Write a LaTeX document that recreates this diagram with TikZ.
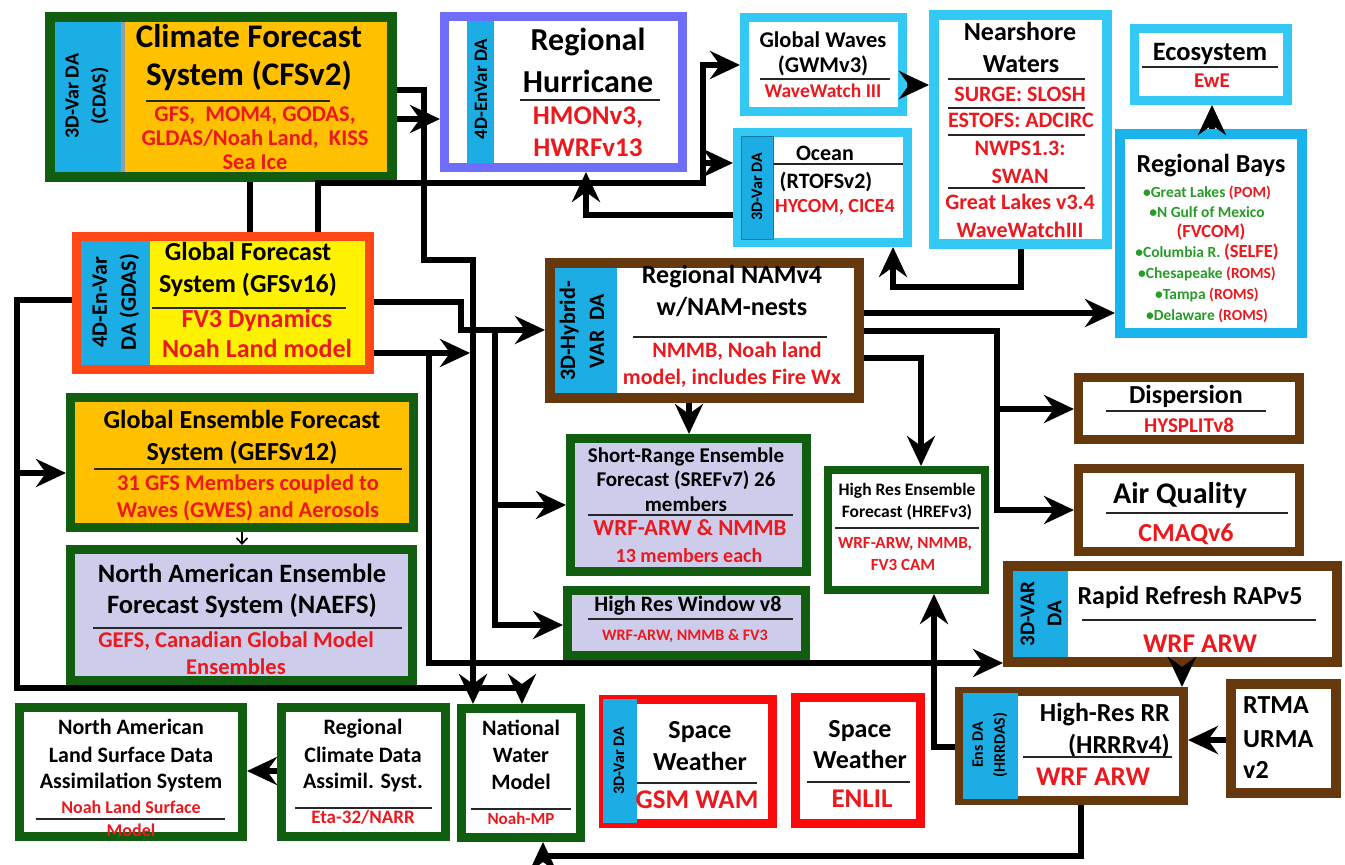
\documentclass[tikz,border=0pt]{standalone}
\usepackage{fontspec}
\setmainfont{Carlito}
\usetikzlibrary{arrows.meta}
\definecolor{dkgreen}{RGB}{17,94,17}
\definecolor{orfill}{RGB}{255,192,0}
\definecolor{stripblue}{RGB}{28,173,228}
\definecolor{ltblue}{RGB}{52,200,245}
\definecolor{bayblue}{RGB}{25,180,235}
\definecolor{peri}{RGB}{110,110,250}
\definecolor{gfsred}{RGB}{255,70,20}
\definecolor{nbrown}{RGB}{102,56,14}
\definecolor{lav}{RGB}{205,205,235}
\definecolor{swred}{RGB}{250,10,10}
\definecolor{txtred}{RGB}{235,25,30}
\definecolor{bgreen}{RGB}{40,155,40}
\definecolor{stripgray}{RGB}{140,160,170}
\newcommand\fsz[2]{\bfseries\fontsize{#1}{#2}\selectfont}
\newcommand\mkbox[8]{%
  \pgfmathsetmacro\mkbW{#4-#2-#6}%
  \pgfmathsetmacro\mkbH{#5-#3-#6}%
  \pgfmathsetmacro\mkbO{#6/2}%
  \node[draw=#7, fill=#8, line width=#6pt, outer sep=\mkbO pt, inner sep=0pt,
        minimum width=\mkbW pt, minimum height=\mkbH pt] (#1) at ({(#2+#4)/2},{(#3+#5)/2}) {};%
}
\begin{document}
\begin{tikzpicture}[x=1pt,y=-1pt,
  bt/.style={anchor=base,inner sep=0pt,text=black,font=\fsz{#1}{#1}},
  rt/.style={anchor=base,inner sep=0pt,text=txtred,font=\fsz{#1}{#1}},
  gt/.style={anchor=base,inner sep=0pt,text=bgreen,font=\fsz{#1}{#1}},
  vt/.style 2 args={rotate=90,align=center,inner sep=0pt,text=black,font=\fsz{#1}{#2}},
  sepl/.style={line width=1.3pt,draw=black!85},
  conn/.style={line width=6.5pt,draw=black},
  arr/.style={conn,-{Stealth[length=30pt,width=28pt,inset=10pt]}},
  thinarr/.style={line width=1.6pt,draw=black,-{Straight Barb[length=6pt,width=11pt]}}]
\useasboundingbox (0,0) rectangle (1345,865);
\fill[white] (0,0) rectangle (1345,865);

% ---------- boxes ----------
\mkbox{cfs}{45}{12}{397}{182}{10}{dkgreen}{orfill}
\mkbox{hur}{440}{12}{687}{172}{9}{peri}{white}
\mkbox{gw}{740}{13}{907}{116}{9}{ltblue}{white}
\mkbox{oc}{733}{128}{912}{247}{9}{ltblue}{white}
\mkbox{near}{929}{10}{1112}{249}{10}{ltblue}{white}
\mkbox{eco}{1130}{24}{1292}{105}{9}{ltblue}{white}
\mkbox{bays}{1115}{129}{1307}{338}{10}{bayblue}{white}
\mkbox{gfs}{72}{232}{374}{374}{9}{gfsred}{yellow}
\mkbox{gefs}{66}{393}{418}{532}{9}{dkgreen}{orfill}
\mkbox{naefs}{66}{545}{417}{685}{9}{dkgreen}{lav}
\mkbox{naldas}{15}{703}{247}{841}{9}{dkgreen}{white}
\mkbox{rcd}{277}{703}{450}{841}{9}{dkgreen}{white}
\mkbox{nwm}{457}{704}{585}{842}{9}{dkgreen}{white}
\mkbox{gsm}{599}{695}{777}{828}{9}{swred}{white}
\mkbox{enlil}{791}{693}{925}{828}{9}{swred}{white}
\mkbox{hrw}{563}{586}{810}{660}{9}{dkgreen}{lav}
\mkbox{sref}{566}{434}{811}{576}{9}{dkgreen}{lav}
\mkbox{nam}{545}{258}{864}{403}{10}{nbrown}{white}
\mkbox{href}{824}{466}{989}{594}{8}{dkgreen}{white}
\mkbox{disp}{1074}{373}{1304}{444}{9}{nbrown}{white}
\mkbox{air}{1074}{464}{1304}{556}{9}{nbrown}{white}
\mkbox{rap}{1003}{561}{1342}{667}{10}{nbrown}{white}
\mkbox{hrrr}{955}{687}{1188}{805}{9}{nbrown}{white}
\mkbox{rtma}{1226}{679}{1341}{798}{10}{nbrown}{white}

% ---------- DA strips ----------
\fill[stripblue] (55,22) rectangle (121,172);
\fill[stripgray] (121,22) rectangle (125,172);
\fill[stripblue] (467,21) rectangle (494,163);
\fill[stripblue] (81,241) rectangle (150,365);
\filldraw[fill=stripblue,draw=stripblue!70!black,line width=1pt] (741,136) rectangle (773,239);
\fill[stripblue] (555,268) rectangle (617,393);
\fill[stripblue] (603,699) rectangle (637,823);
\fill[stripblue] (1013,571) rectangle (1068,657);
\fill[stripblue] (963,693) rectangle (1018,799);

% ---------- CFS ----------
\node[vt={20}{27}] (cfs-da) at (87,96) {3D-Var DA\\(CDAS)};
\node[bt=33] (cfs-t1) at (249,47) {Climate Forecast};
\node[bt=33] (cfs-t2) at (249,85) {System (CFSv2)};
\draw[sepl] (146,101) -- (330,101);
\node[rt=22.5] (cfs-r1) at (255,121) {GFS,\ \ MOM4, GODAS,};
\node[rt=22.5] (cfs-r2) at (255,145) {GLDAS/Noah Land,\ \ KISS};
\node[rt=22.5] (cfs-r3) at (255,169) {Sea Ice};

% ---------- Hurricane ----------
\node[vt={19}{24}] (hur-da) at (481,89) {4D-EnVar DA};
\node[bt=32] (hur-t1) at (588,50) {Regional};
\node[bt=32] (hur-t2) at (588,92) {Hurricane};
\draw[sepl] (520,100) -- (660,100);
\node[rt=27] (hur-r1) at (588,124) {HMONv3,};
\node[rt=27] (hur-r2) at (588,156) {HWRFv13};

% ---------- Global waves ----------
\node[bt=22.5] (gw-t1) at (823,47) {Global Waves};
\node[bt=22.5] (gw-t2) at (823,72) {(GWMv3)};
\draw[sepl] (760,79) -- (890,79);
\node[rt=19.5] (gw-r) at (823,97) {WaveWatch III};

% ---------- Ocean ----------
\node[vt={16}{20}] (oc-da) at (757,187) {3D-Var DA};
\node[bt=22] (oc-t1) at (825,160) {Ocean};
\draw[sepl] (773,164) -- (903,164);
\node[bt=22] (oc-t2) at (826,188) {(RTOFSv2)};
\node[rt=20] (oc-r) at (835,212) {HYCOM, CICE4};

% ---------- Nearshore ----------
\node[bt=26] (ns-t1) at (1020,40) {Nearshore};
\node[bt=26] (ns-t2) at (1021,72) {Waters};
\draw[sepl] (948,79) -- (1085,79);
\node[rt=22] (ns-r1) at (1020,101) {SURGE: SLOSH};
\draw[sepl] (948,108) -- (1085,108);
\node[rt=22] (ns-r2) at (1021,127) {ESTOFS: ADCIRC};
\draw[sepl] (948,135) -- (1085,135);
\node[rt=22] (ns-r3) at (1020,155) {NWPS1.3:};
\node[rt=22] (ns-r4) at (1020,183) {SWAN};
\draw[sepl] (948,188) -- (1085,188);
\node[rt=22] (ns-r5) at (1020,209) {Great Lakes v3.4};
\node[rt=22] (ns-r6) at (1020,237) {WaveWatchIII};

% ---------- Ecosystem ----------
\node[bt=26.5] (eco-t) at (1210,60) {Ecosystem};
\draw[sepl] (1142,67) -- (1278,67);
\node[rt=21] (eco-r) at (1212,87) {EwE};

% ---------- Regional Bays ----------
\node[bt=26] (bays-t) at (1211,172) {Regional Bays};
\node[gt=15.5] (bays-1) at (1207,197) {•Great Lakes \textcolor{txtred}{(POM)}};
\node[gt=15.5] (bays-2) at (1207,217) {•N Gulf of Mexico};
\node[rt=18.5] (bays-3) at (1211,237) {(FVCOM)};
\node[gt=15.5] (bays-4) at (1207,257) {•Columbia R. \textcolor{txtred}{\fontsize{18.5}{18.5}\selectfont(SELFE)}};
\node[gt=15.5] (bays-5) at (1207,278) {•Chesapeake \textcolor{txtred}{(ROMS)}};
\node[gt=15.5] (bays-6) at (1207,299) {•Tampa \textcolor{txtred}{(ROMS)}};
\node[gt=15.5] (bays-7) at (1207,320) {•Delaware \textcolor{txtred}{(ROMS)}};

% ---------- GFS ----------
\node[vt={22}{29}] (gfs-da) at (116,302) {4D-En-Var\\DA (GDAS)};
\node[bt=26] (gfs-t1) at (248,260) {Global Forecast};
\node[bt=26] (gfs-t2) at (248,292) {System (GFSv16)};
\draw[sepl] (152,308) -- (346,308);
\node[rt=26] (gfs-r1) at (257,327) {FV3 Dynamics};
\node[rt=26] (gfs-r2) at (257,357) {Noah Land model};

% ---------- GEFS ----------
\node[bt=26] (gefs-t1) at (242,428) {Global Ensemble Forecast};
\node[bt=26] (gefs-t2) at (242,460) {System (GEFSv12)};
\draw[sepl] (94,469) -- (402,469);
\node[rt=22.5] (gefs-r1) at (248,490) {31 GFS Members coupled to};
\node[rt=22.5] (gefs-r2) at (248,517) {Waves (GWES) and Aerosols};

% ---------- NAEFS ----------
\node[bt=26.5] (naefs-t1) at (242,582) {North American Ensemble};
\node[bt=26.5] (naefs-t2) at (242,613) {Forecast System (NAEFS)};
\draw[sepl] (93,628) -- (402,628);
\node[rt=22.5] (naefs-r1) at (236,647) {GEFS, Canadian Global Model};
\node[rt=22.5] (naefs-r2) at (236,674) {Ensembles};

% ---------- NALDAS ----------
\node[bt=22] (nl-t1) at (131,734) {North American};
\node[bt=22] (nl-t2) at (131,762) {Land Surface Data};
\node[bt=22] (nl-t3) at (131,788) {Assimilation System};
\node[rt=18] (nl-r1) at (131,813) {Noah Land Surface};
\draw[sepl] (36,819) -- (225,819);
\node[rt=18] (nl-r2) at (131,836) {Model};

% ---------- Regional climate ----------
\node[bt=22] (rc-t1) at (363,734) {Regional};
\node[bt=22] (rc-t2) at (363,762) {Climate Data};
\node[bt=22] (rc-t3) at (363,788) {Assimil. Syst.};
\draw[sepl] (295,808) -- (432,808);
\node[rt=19] (rc-r) at (363,823) {Eta-32/NARR};

% ---------- National water ----------
\node[bt=22] (nwm-t1) at (521,735) {National};
\node[bt=22] (nwm-t2) at (521,762) {Water};
\node[bt=22] (nwm-t3) at (521,789) {Model};
\draw[sepl] (471,809) -- (571,809);
\node[rt=17] (nwm-r) at (521,824) {Noah-MP};

% ---------- Space weather ----------
\node[vt={16}{20}] (gsm-da) at (619,761) {3D-Var DA};
\node[bt=26] (gsm-t1) at (700,738) {Space};
\node[bt=26] (gsm-t2) at (700,770) {Weather};
\draw[sepl] (637,783) -- (757,783);
\node[rt=27] (gsm-r) at (697,808) {GSM WAM};
\node[bt=26] (en-t1) at (860,737) {Space};
\node[bt=26] (en-t2) at (860,768) {Weather};
\draw[sepl] (807,782) -- (910,782);
\node[rt=27] (en-r) at (862,807) {ENLIL};

% ---------- High Res Window ----------
\node[bt=22] (hrw-t) at (688,611) {High Res Window v8};
\draw[sepl] (588,619) -- (793,619);
\node[rt=16] (hrw-r) at (685,640) {WRF-ARW, NMMB \& FV3};

% ---------- SREF ----------
\node[bt=21] (sref-t1) at (686,462) {Short-Range Ensemble};
\node[bt=21] (sref-t2) at (686,486) {Forecast (SREFv7) 26};
\node[bt=21] (sref-t3) at (686,511) {members};
\draw[sepl] (588,515) -- (793,515);
\node[rt=23] (sref-r1) at (690,535) {WRF-ARW \& NMMB};
\node[rt=20] (sref-r2) at (689,562) {13 members each};

% ---------- NAM ----------
\node[vt={22}{29}] (nam-da) at (582,331) {3D-Hybrid-\\VAR\ \ DA};
\node[bt=26] (nam-t1) at (732,283) {Regional NAMv4};
\node[bt=26] (nam-t2) at (732,315) {w/NAM-nests};
\draw[sepl] (633,337) -- (827,337);
\node[rt=22] (nam-r1) at (737,357) {NMMB, Noah land};
\node[rt=22] (nam-r2) at (732,384) {model, includes Fire Wx};

% ---------- HREF ----------
\node[bt=17.5] (href-t1) at (907,495) {High Res Ensemble};
\node[bt=17.5] (href-t2) at (907,517) {Forecast (HREFv3)};
\draw[sepl] (835,528) -- (979,528);
\node[rt=17] (href-r1) at (905,548) {WRF-ARW, NMMB,};
\node[rt=17] (href-r2) at (903,570) {FV3 CAM};

% ---------- Dispersion / Air quality ----------
\node[bt=26] (disp-t) at (1186,403) {Dispersion};
\draw[sepl] (1106,411) -- (1266,411);
\node[rt=21] (disp-r) at (1189,432) {HYSPLITv8};
\node[bt=30] (air-t) at (1180,503) {Air Quality};
\draw[sepl] (1106,513) -- (1288,513);
\node[rt=26] (air-r) at (1186,541) {CMAQv6};

% ---------- RAP ----------
\node[vt={21}{27}] (rap-da) at (1041,614) {3D-VAR\\DA};
\node[bt=26] (rap-t) at (1190,604) {Rapid Refresh RAPv5};
\draw[sepl] (1082,620) -- (1316,620);
\node[rt=27] (rap-r) at (1200,652) {WRF ARW};

% ---------- HRRR ----------
\node[vt={16}{22}] (hrrr-da) at (990,745) {Ens DA\\(HRRDAS)};
\node[bt=26,anchor=base east] (hrrr-t1) at (1170,721) {High-Res RR};
\node[bt=26,anchor=base east] (hrrr-t2) at (1170,753) {(HRRRv4)};
\draw[sepl] (1023,757) -- (1172,757);
\node[rt=27] (hrrr-r) at (1093,785) {WRF ARW};

% ---------- RTMA ----------
\node[bt=26,anchor=base west] (rtma-1) at (1243,713) {RTMA};
\node[bt=26,anchor=base west] (rtma-2) at (1243,747) {URMA};
\node[bt=26,anchor=base west] (rtma-3) at (1243,778) {v2};

% ---------- junctions ----------
\coordinate (j-oc) at (703,163);
\coordinate (j-disp) at (997,409);
\coordinate (j-bus) at (470,353);
\coordinate (j-429) at (429,353);
\coordinate (j-495) at (495,330);
\coordinate (j-sref) at (495,505);
\coordinate (j-gefs) at (17,473);

% ---------- connectors ----------
\draw[arr] (cfs.east |- 0,90) -- (424,90) -- (424,260) -- (473,260) -- (nwm.north -| 473,0);
\draw[arr] (cfs.east |- 0,119) -- (hur.west |- 0,119);
\draw[conn] (cfs.south -| 250,0) -- (gfs.north -| 250,0);
\draw[arr] (gfs.north -| 318,0) -- (318,183) -- (703,183) -- (703,65) -- (gw.west |- 0,65);
\draw[arr] (j-oc) -- (oc.west |- 0,163);
\draw[arr] (oc.west |- 0,215) -- (586,215) -- (hur.south -| 586,0);
\draw[arr] (near.south -| 1021,0) -- (1021,287) -- (893,287) -- (oc.south -| 893,0);
\draw[arr] (gw.east |- 0,85) -- (near.west |- 0,85);
\draw[arr] (bays.north -| 1212,0) -- (eco.south -| 1212,0);
\draw[arr] (nam.east |- 0,313) -- (bays.west |- 0,313);
\draw[arr] (nam.east |- 0,331) -- (997,331) -- (997,510) -- (air.west |- 0,510);
\draw[arr] (j-disp) -- (disp.west |- 0,409);
\draw[arr] (nam.east |- 0,358) -- (921,358) -- (href.north -| 921,0);
\draw[arr] (gfs.east |- 0,302) -- (461,302) -- (461,330) -- (nam.west |- 0,330);
\draw[arr] (gfs.east |- 0,353) -- (j-bus);
\draw[arr] (j-429) -- (429,663) -- (rap.west |- 0,663);
\draw[arr] (j-495) -- (495,625) -- (hrw.west |- 0,625);
\draw[arr] (j-sref) -- (sref.west |- 0,505);
\draw[arr] (gfs.west |- 0,300) -- (17,300) -- (17,688) -- (522,688) -- (nwm.north -| 522,0);
\draw[arr] (j-gefs) -- (gefs.west |- 0,473);
\draw[thinarr] (gefs.south -| 242,0) -- (naefs.north -| 242,0);
\draw[arr] (rcd.west |- 0,771) -- (naldas.east |- 0,771);
\draw[arr] (hrrr.west |- 0,747) -- (934,747) -- (href.south -| 934,0);
\draw[arr] (rap.south -| 1182,0) -- (hrrr.north -| 1182,0);
\draw[arr] (rtma.west |- 0,740) -- (hrrr.east |- 0,740);
\draw[arr] (hrrr.south -| 1081,0) -- (1081,856) -- (543,856) -- (nwm.south -| 543,0);
\draw[arr] (nam.south -| 689,0) -- (sref.north -| 689,0);
\end{tikzpicture}
\end{document}
